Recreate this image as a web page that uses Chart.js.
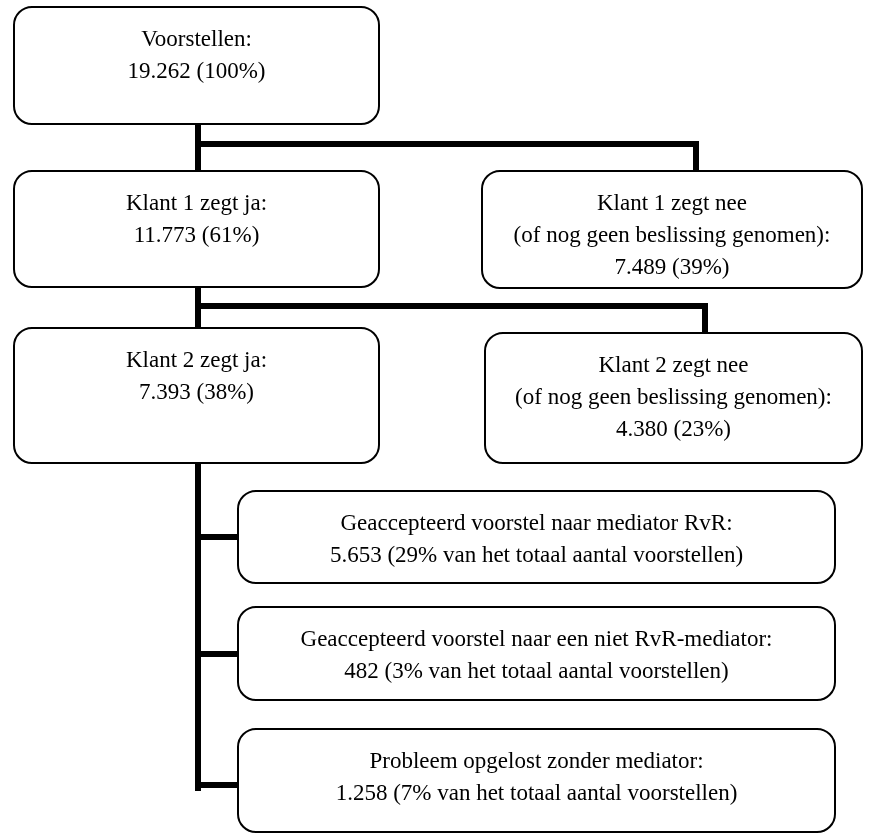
<!DOCTYPE html>
<html>
<head>
<meta charset="utf-8">
<script src="https://cdn.jsdelivr.net/npm/chart.js@4"></script>
<style>
  html, body { margin: 0; padding: 0; background: #ffffff; }
  #wrap { width: 883px; height: 836px; position: relative; }
</style>
</head>
<body>
<div id="wrap"><canvas id="c" width="883" height="836"></canvas></div>
<script>
// ---- data ----
const nodeTitles = [
  ['Voorstellen:'],
  ['Klant 1 zegt ja:'],
  ['Klant 1 zegt nee', '(of nog geen beslissing genomen):'],
  ['Klant 2 zegt ja:'],
  ['Klant 2 zegt nee', '(of nog geen beslissing genomen):'],
  ['Geaccepteerd voorstel naar mediator RvR:'],
  ['Geaccepteerd voorstel naar een niet RvR-mediator:'],
  ['Probleem opgelost zonder mediator:']
];
const nodeCounts = [19262, 11773, 7489, 7393, 4380, 5653, 482, 1258];
const nodePercents = [100, 61, 39, 38, 23, 29, 3, 7];
const percentSuffix = ['', '', '', '', '', ' van het totaal aantal voorstellen', ' van het totaal aantal voorstellen', ' van het totaal aantal voorstellen'];
// parent of each node (tree edges)
const nodeParents = [null, 0, 0, 1, 1, 3, 3, 3];

// ---- layout (chart units on hidden linear axes) ----
const boxLayout = [
  {x: 14,  y: 7,   w: 365, h: 117},
  {x: 14,  y: 171, w: 365, h: 116},
  {x: 482, y: 171, w: 380, h: 117},
  {x: 14,  y: 328, w: 365, h: 135},
  {x: 485, y: 333, w: 377, h: 130},
  {x: 238, y: 491, w: 597, h: 92},
  {x: 238, y: 607, w: 597, h: 93},
  {x: 238, y: 729, w: 597, h: 103}
];
const connectorLayout = [
  // [x1, y1, x2, y2]
  [198, 124, 198, 171],
  [198, 144, 696, 144],
  [696, 144, 696, 171],
  [198, 287, 198, 328],
  [198, 306, 705, 306],
  [705, 306, 705, 333],
  [198, 463, 198, 788],
  [198, 537, 238, 537],
  [198, 654, 238, 654],
  [198, 785, 238, 785]
];

function fmtNL(n) { return n.toString().replace(/\B(?=(\d{3})+(?!\d))/g, '.'); }

function nodeLines(i) {
  return nodeTitles[i].concat([fmtNL(nodeCounts[i]) + ' (' + nodePercents[i] + '%' + percentSuffix[i] + ')']);
}

const flowPlugin = {
  id: 'flow',
  afterDatasetsDraw(chart) {
    const ctx = chart.ctx;
    const xs = chart.scales.x, ys = chart.scales.y;
    const px = v => xs.getPixelForValue(v);
    const py = v => ys.getPixelForValue(v);
    ctx.save();
    // connectors
    ctx.strokeStyle = '#000';
    ctx.lineWidth = 6;
    ctx.lineCap = 'square';
    connectorLayout.forEach(c => {
      ctx.beginPath();
      ctx.moveTo(px(c[0]), py(c[1]));
      ctx.lineTo(px(c[2]), py(c[3]));
      ctx.stroke();
    });
    // boxes
    boxLayout.forEach((b, i) => {
      const x0 = px(b.x), x1 = px(b.x + b.w);
      const y0 = py(b.y), y1 = py(b.y + b.h);
      const r = 18;
      ctx.beginPath();
      ctx.moveTo(x0 + r, y0);
      ctx.lineTo(x1 - r, y0);
      ctx.arcTo(x1, y0, x1, y0 + r, r);
      ctx.lineTo(x1, y1 - r);
      ctx.arcTo(x1, y1, x1 - r, y1, r);
      ctx.lineTo(x0 + r, y1);
      ctx.arcTo(x0, y1, x0, y1 - r, r);
      ctx.lineTo(x0, y0 + r);
      ctx.arcTo(x0, y0, x0 + r, y0, r);
      ctx.closePath();
      ctx.fillStyle = '#fff';
      ctx.fill();
      ctx.lineWidth = 2;
      ctx.strokeStyle = '#000';
      ctx.stroke();
      // text
      const lines = nodeLines(i);
      ctx.fillStyle = '#000';
      ctx.font = '23px "Liberation Serif", "Times New Roman", serif';
      ctx.textAlign = 'center';
      ctx.textBaseline = 'middle';
      const cx = (x0 + x1) / 2;
      lines.forEach((t, k) => {
        ctx.fillText(t, cx, y0 + 33 + k * 32);
      });
    });
    ctx.restore();
  }
};

new Chart(document.getElementById('c'), {
  type: 'scatter',
  data: { datasets: [{ data: nodeCounts.map((v, i) => ({x: boxLayout[i].x + boxLayout[i].w / 2, y: boxLayout[i].y + boxLayout[i].h / 2})), pointRadius: 0, showLine: false }] },
  options: {
    responsive: false,
    animation: false,
    events: [],
    layout: { padding: 0 },
    plugins: { legend: { display: false }, tooltip: { enabled: false } },
    scales: {
      x: { type: 'linear', min: 0, max: 883, display: false },
      y: { type: 'linear', min: 0, max: 836, reverse: true, display: false }
    }
  },
  plugins: [flowPlugin]
});
</script>
</body>
</html>
